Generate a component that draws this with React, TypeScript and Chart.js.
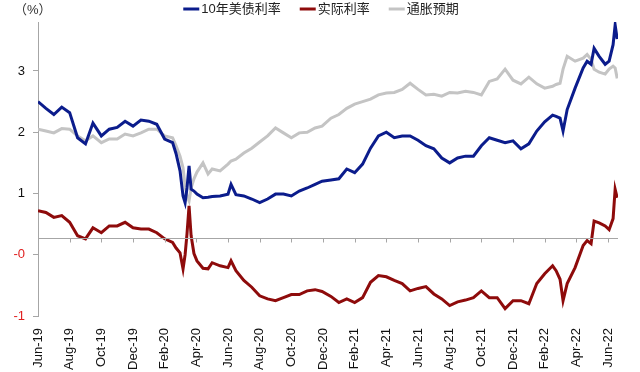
import React, { useEffect, useRef } from "react";
import { Chart, registerables } from "chart.js";

Chart.register(...registerables);

// months elapsed since Jun-2019 for each observation
const months = [
  0, 0.5, 1.0, 1.5, 2.0, 2.5, 3.0, 3.47, 4.0, 4.5, 5.0, 5.5, 6.0, 6.5, 7.0, 7.5, 8.0, 8.5,
  8.72, 8.97, 9.16, 9.29, 9.41, 9.54, 9.67, 9.85, 10.04, 10.42, 10.74,
  11.0, 11.5, 12.0, 12.19, 12.5, 13.0, 13.5, 14.0, 14.5, 15.0, 15.5, 16.0, 16.5, 17.0, 17.5,
  17.94, 18.5, 19.0, 19.5, 20.0, 20.5, 21.0, 21.5, 22.0, 22.5, 23.0, 23.5, 24.0, 24.5, 25.0,
  25.5, 26.0, 26.5, 27.0, 27.5, 28.0, 28.5, 29.0, 29.5, 30.0, 30.5, 31.0, 31.5, 32.0, 32.5,
  32.72, 32.97, 33.16, 33.42, 33.92, 34.43, 34.68, 34.93, 35.12, 35.44, 35.82, 36.07, 36.32,
  36.45, 36.58,
];

const tenYear = [
  2.5, 2.39, 2.29, 2.41, 2.32, 1.91, 1.81, 2.15, 1.94, 2.05, 2.08, 2.18, 2.1, 2.2, 2.18, 2.13, 1.89, 1.83,
  1.65, 1.37, 0.96, 0.85, 1.09, 1.45, 1.07, 1.04, 0.99, 0.93, 0.94,
  0.95, 0.96, 0.99, 1.15, 0.98, 0.96, 0.91, 0.85, 0.91, 0.99, 0.99, 0.96, 1.04, 1.09, 1.15,
  1.2, 1.22, 1.24, 1.4, 1.34, 1.48, 1.74, 1.94, 2.0, 1.91, 1.94, 1.94, 1.87, 1.78, 1.73,
  1.58, 1.5, 1.58, 1.61, 1.61, 1.78, 1.91, 1.87, 1.83, 1.86, 1.73, 1.81, 2.02, 2.17, 2.28,
  2.26, 2.23, 2.02, 2.37, 2.72, 3.05, 3.16, 3.11, 3.37, 3.24, 3.11, 3.16, 3.43,
  3.75, 3.52,
];

const realRate = [
  0.72, 0.69, 0.61, 0.64, 0.53, 0.31, 0.26, 0.44, 0.36, 0.47, 0.47, 0.53, 0.44, 0.42, 0.42, 0.36, 0.26, 0.2,
  0.11, 0.03, -0.23, 0.0, 0.34, 0.8, 0.31, 0.02, -0.1, -0.22, -0.23,
  -0.13, -0.18, -0.21, -0.1, -0.26, -0.42, -0.53, -0.67, -0.72, -0.75, -0.7, -0.65, -0.65, -0.59, -0.57,
  -0.6, -0.68, -0.78, -0.72, -0.78, -0.7, -0.45, -0.34, -0.36, -0.42, -0.47, -0.59, -0.55, -0.52, -0.64,
  -0.72, -0.83, -0.77, -0.74, -0.7, -0.59, -0.7, -0.7, -0.88, -0.75, -0.75, -0.8, -0.47, -0.31, -0.18,
  -0.26, -0.4, -0.75, -0.47, -0.21, 0.15, 0.23, 0.18, 0.55, 0.52, 0.47, 0.41, 0.59,
  1.07, 0.93,
];

const inflation = [
  2.05, 2.02, 1.99, 2.06, 2.05, 1.94, 1.86, 1.94, 1.83, 1.89, 1.89, 1.97, 1.94, 1.99, 2.05, 2.05, 1.94, 1.91,
  1.78, 1.61, 1.42, 1.12, 0.96, 0.88, 1.09, 1.24, 1.35, 1.5, 1.32,
  1.4, 1.37, 1.48, 1.53, 1.56, 1.66, 1.74, 1.84, 1.94, 2.07, 1.99, 1.91, 1.99, 2.0, 2.07,
  2.1, 2.23, 2.29, 2.39, 2.46, 2.5, 2.54, 2.61, 2.64, 2.65, 2.7, 2.8, 2.7, 2.61, 2.62,
  2.59, 2.65, 2.64, 2.67, 2.65, 2.61, 2.83, 2.87, 3.03, 2.85, 2.79, 2.9, 2.79, 2.72, 2.75,
  2.78, 2.8, 3.03, 3.24, 3.16, 3.21, 3.27, 3.19, 3.03, 2.98, 2.95, 3.03, 3.08,
  3.05, 2.88,
];

const xTickLabels = [
  "Jun-19", "Aug-19", "Oct-19", "Dec-19", "Feb-20", "Apr-20", "Jun-20", "Aug-20", "Oct-20", "Dec-20",
  "Feb-21", "Apr-21", "Jun-21", "Aug-21", "Oct-21", "Dec-21", "Feb-22", "Apr-22", "Jun-22",
];

const seriesNames = ["10年美债利率", "实际利率", "通胀预期"];
const unitLabel = "（%）";
const axisCrossValue = 0.28;

const FONT = '"Liberation Sans", Arial, "Noto Sans CJK SC", sans-serif';
const BLUE = "#0b1c8c";
const RED = "#8e0b0b";
const GRAY = "#c4c4c4";
const AXIS = "#a6a6a6";

const decorPlugin = {
  id: "decor",
  afterDraw(chart: any) {
    const ctx = chart.ctx;
    const area = chart.chartArea;
    const xs = chart.scales.x;
    const ys = chart.scales.y;
    ctx.save();
    // horizontal axis line crossing
    const yLine = Math.round(ys.getPixelForValue(axisCrossValue)) + 0.5;
    ctx.strokeStyle = AXIS;
    ctx.lineWidth = 1;
    ctx.beginPath();
    ctx.moveTo(area.left, yLine);
    ctx.lineTo(area.right, yLine);
    xs.ticks.forEach((t: any) => {
      const px = Math.round(xs.getPixelForValue(t.value)) + 0.5;
      ctx.moveTo(px, yLine);
      ctx.lineTo(px, yLine + 4);
    });
    ctx.stroke();

    // unit label
    ctx.fillStyle = "#333";
    ctx.font = "13px " + FONT;
    ctx.textBaseline = "middle";
    ctx.textAlign = "left";
    ctx.fillText(unitLabel, 14, 10);

    // legend
    const items = chart.data.datasets.map((d: any) => ({ label: d.label, color: d.borderColor }));
    const sample = 16;
    const gap = 2;
    const itemGap = 19;
    const widths = items.map((it: any) => sample + gap + ctx.measureText(it.label).width);
    const total = widths.reduce((a: number, b: number) => a + b, 0) + itemGap * (items.length - 1);
    let x = chart.width / 2 + 1 - total / 2;
    const ly = 9;
    items.forEach((it: any, i: number) => {
      ctx.strokeStyle = it.color;
      ctx.lineWidth = 3;
      ctx.beginPath();
      ctx.moveTo(x, ly);
      ctx.lineTo(x + sample, ly);
      ctx.stroke();
      ctx.fillStyle = "#222";
      ctx.fillText(it.label, x + sample + gap, ly);
      x += widths[i] + itemGap;
    });
    ctx.restore();
  },
};

export default function App() {
  const ref = useRef<HTMLCanvasElement | null>(null);
  useEffect(() => {
    if (!ref.current) return;
    const mk = (vals: number[]) => months.map((m, i) => ({ x: m, y: vals[i] }));
    const chart = new Chart(ref.current, {
      type: "line",
      data: {
        datasets: [
          { label: seriesNames[0], data: mk(tenYear), borderColor: BLUE, backgroundColor: BLUE, borderWidth: 3, pointRadius: 0 },
          { label: seriesNames[1], data: mk(realRate), borderColor: RED, backgroundColor: RED, borderWidth: 3, pointRadius: 0 },
          { label: seriesNames[2], data: mk(inflation), borderColor: GRAY, backgroundColor: GRAY, borderWidth: 3, pointRadius: 0 },
        ],
      },
      options: {
        responsive: false,
        animation: false,
        layout: { padding: { top: 22, right: 22, left: 0, bottom: 0 } },
        plugins: { legend: { display: false }, tooltip: { enabled: false } },
        scales: {
          x: {
            type: "linear",
            min: 0,
            max: 36.63,
            grid: { display: false },
            border: { display: false },
            ticks: {
              stepSize: 2,
              includeBounds: false,
              autoSkip: false,
              minRotation: 90,
              maxRotation: 90,
              padding: 4,
              color: "#111",
              font: { family: FONT, size: 13 },
              callback: (v: any) => xTickLabels[Math.round(Number(v) / 2)] ?? "",
            },
            afterFit: (s: any) => { s.height = 56; },
          },
          y: {
            type: "linear",
            min: -1,
            max: 3.8,
            grid: { display: true, drawOnChartArea: false, drawTicks: true, tickLength: 5, color: AXIS },
            border: { display: true, color: AXIS, width: 1 },
            ticks: {
              stepSize: 1,
              includeBounds: false,
              padding: 8,
              font: { family: FONT, size: 13 },
              color: (c: any) => (c.tick && c.tick.value <= 0 ? "#e02020" : "#111"),
              callback: (v: any) => (Number(v) === 0 ? "-0" : String(v)),
            },
            afterFit: (s: any) => { s.width = 38; },
          },
        },
      },
      plugins: [decorPlugin],
    });
    return () => chart.destroy();
  }, []);
  return (
    <div style={{ position: "fixed", left: 0, top: 0, width: 640, height: 372, background: "#fff" }}>
      <canvas ref={ref} width={640} height={372} style={{ display: "block" }} />
    </div>
  );
}
